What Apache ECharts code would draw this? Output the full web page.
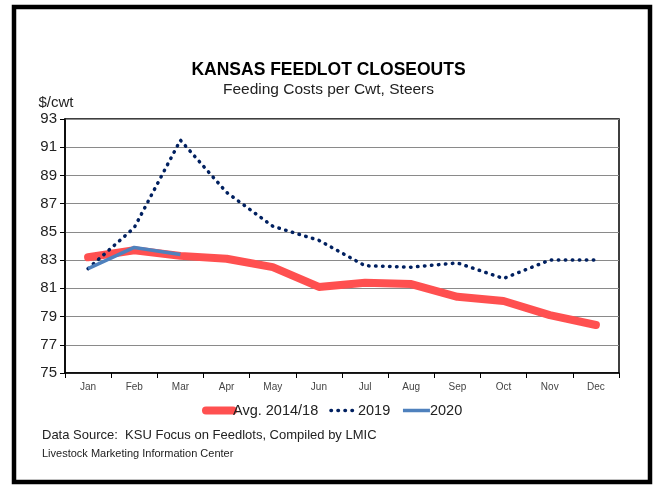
<!DOCTYPE html>
<html>
<head>
<meta charset="utf-8">
<script src="https://cdn.jsdelivr.net/npm/echarts@6/dist/echarts.min.js"></script>
<style>
  html, body { margin: 0; padding: 0; background: #fff; }
  #main { width: 657px; height: 485px; }
</style>
</head>
<body>
<div id="main"></div>
<script>
'use strict'
var months = ['Jan','Feb','Mar','Apr','May','Jun','Jul','Aug','Sep','Oct','Nov','Dec'];
var avg1418 = [83.2, 83.7, 83.3, 83.1, 82.5, 81.1, 81.4, 81.3, 80.4, 80.1, 79.1, 78.4];
var y2019 = [82.4, 85.3, 91.5, 87.8, 85.4, 84.4, 82.6, 82.5, 82.8, 81.7, 83.0, 83.0];
var y2020 = [82.4, 83.9, 83.4];

var font = '"Liberation Sans", Arial, sans-serif';
var dots = [0.5, 6.5];

var myChart = echarts.init(document.getElementById('main'));
myChart.setOption({
    animation: false,
    backgroundColor: '#fff',
    title: [
        {
            text: 'KANSAS FEEDLOT CLOSEOUTS',
            left: 'center', top: 56,
            textStyle: { fontFamily: font, fontSize: 17.5, fontWeight: 'bold', color: '#000' }
        },
        {
            text: 'Feeding Costs per Cwt, Steers',
            left: 'center', top: 77,
            textStyle: { fontFamily: font, fontSize: 15.5, fontWeight: 'normal', color: '#222' }
        }
    ],
    grid: {
        left: 65, right: 38, top: 119, bottom: 112,
        show: true, borderColor: '#000', borderWidth: 1.5
    },
    legend: {
        left: 197, top: 398,
        itemWidth: 27, itemHeight: 8, itemGap: 11,
        itemStyle: { opacity: 0 },
        textStyle: { fontFamily: font, fontSize: 14.5, color: '#222', padding: [0, 0, 0, -5] },
        data: [
            { name: 'Avg. 2014/18', lineStyle: { width: 8, cap: 'round' } },
            { name: '2019', lineStyle: { width: 3.5, type: dots, cap: 'round' } },
            { name: '2020', lineStyle: { width: 3.5 } }
        ]
    },
    xAxis: {
        type: 'category',
        data: months,
        boundaryGap: true,
        axisLine: { lineStyle: { color: '#000', width: 1.5 } },
        axisTick: { show: true, length: 5, lineStyle: { color: '#000' } },
        axisLabel: { fontFamily: font, fontSize: 10, color: '#444', margin: 9 }
    },
    yAxis: {
        type: 'value',
        min: 75, max: 93, interval: 2,
        name: '$/cwt',
        nameLocation: 'end',
        nameGap: 9,
        nameTextStyle: { fontFamily: font, fontSize: 15, color: '#222', align: 'center', padding: [0, 0, 0, -18] },
        axisLine: { show: true, lineStyle: { color: '#000', width: 1.5 } },
        axisTick: { show: true, length: 5, lineStyle: { color: '#000' } },
        axisLabel: { fontFamily: font, fontSize: 15, color: '#222', margin: 8 },
        splitLine: { lineStyle: { color: '#8a8a8a', width: 1 } }
    },
    series: [
        {
            name: 'Avg. 2014/18',
            type: 'line',
            data: avg1418,
            symbol: 'none',
            color: '#ff5050',
            lineStyle: { color: '#ff5050', width: 8, cap: 'round', join: 'round' },
            z: 2
        },
        {
            name: '2019',
            type: 'line',
            data: y2019,
            symbol: 'none',
            color: '#002060',
            lineStyle: { color: '#002060', width: 3.5, type: dots, cap: 'round' },
            z: 3
        },
        {
            name: '2020',
            type: 'line',
            data: y2020,
            symbol: 'none',
            color: '#4f81bd',
            lineStyle: { color: '#4f81bd', width: 3.5 },
            z: 4
        }
    ],
    graphic: [
        {
            type: 'rect',
            shape: { x: 14, y: 7, width: 636, height: 475 },
            style: { fill: 'none', stroke: '#000', lineWidth: 4.5 },
            silent: true
        },
        {
            type: 'text',
            left: 42, top: 429,
            style: { text: 'Data Source:  KSU Focus on Feedlots, Compiled by LMIC', fontFamily: font, fontSize: 13, fill: '#222' }
        },
        {
            type: 'text',
            left: 42, top: 448,
            style: { text: 'Livestock Marketing Information Center', fontFamily: font, fontSize: 11, fill: '#222' }
        }
    ]
});
</script>
</body>
</html>
